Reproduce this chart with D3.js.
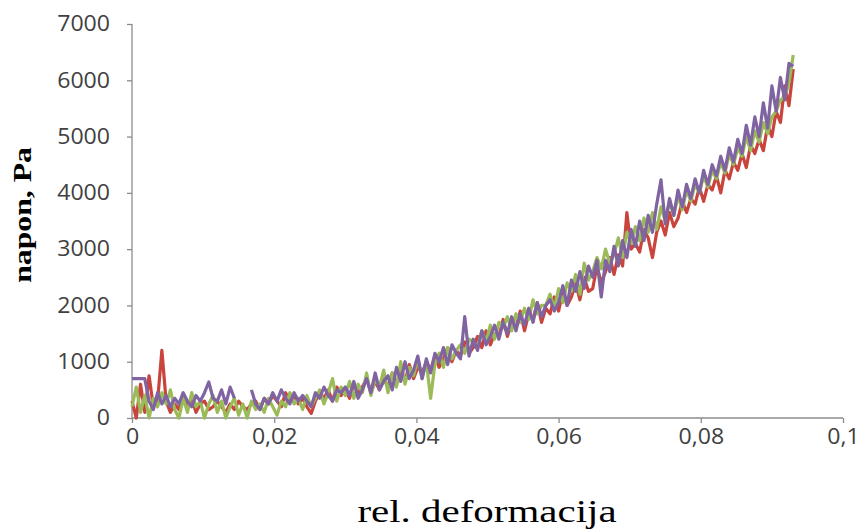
<!DOCTYPE html>
<html>
<head>
<meta charset="utf-8">
<script src="https://cdn.jsdelivr.net/npm/d3@7"></script>
<style>
  html, body { margin: 0; padding: 0; background: #fff; }
  svg { display: block; }
</style>
</head>
<body>
<svg id="chart" width="864" height="531"></svg>
<script>
// Relative strain (shared sampling for all three specimens)
const strain = [
  0, 0.0006, 0.0012, 0.0018, 0.0024, 0.003, 0.0036, 0.0042, 0.0048, 0.0054,
  0.006, 0.0066, 0.0072, 0.0078, 0.0084, 0.009, 0.0096, 0.0102, 0.0108, 0.0114,
  0.012, 0.0126, 0.0132, 0.0138, 0.0144, 0.015, 0.0156, 0.0162, 0.0168, 0.0174,
  0.018, 0.0186, 0.0192, 0.0198, 0.0204, 0.021, 0.0216, 0.0222, 0.0228, 0.0234,
  0.024, 0.0246, 0.0252, 0.0258, 0.0264, 0.027, 0.0276, 0.0282, 0.0288, 0.0294,
  0.03, 0.0306, 0.0312, 0.0318, 0.0324, 0.033, 0.0336, 0.0342, 0.0348, 0.0354,
  0.036, 0.0366, 0.0372, 0.0378, 0.0384, 0.039, 0.0396, 0.0402, 0.0408, 0.0414,
  0.042, 0.0426, 0.0432, 0.0438, 0.0444, 0.045, 0.0456, 0.0462, 0.0468, 0.0474,
  0.048, 0.0486, 0.0492, 0.0498, 0.0504, 0.051, 0.0516, 0.0522, 0.0528, 0.0534,
  0.054, 0.0546, 0.0552, 0.0558, 0.0564, 0.057, 0.0576, 0.0582, 0.0588, 0.0594,
  0.06, 0.0606, 0.0612, 0.0618, 0.0624, 0.063, 0.0636, 0.0642, 0.0648, 0.0654,
  0.066, 0.0666, 0.0672, 0.0678, 0.0684, 0.069, 0.0696, 0.0702, 0.0708, 0.0714,
  0.072, 0.0726, 0.0732, 0.0738, 0.0744, 0.075, 0.0756, 0.0762, 0.0768, 0.0774,
  0.078, 0.0786, 0.0792, 0.0798, 0.0804, 0.081, 0.0816, 0.0822, 0.0828, 0.0834,
  0.084, 0.0846, 0.0852, 0.0858, 0.0864, 0.087, 0.0876, 0.0882, 0.0888, 0.0894,
  0.09, 0.0906, 0.0912, 0.0918, 0.0924, 0.093
];

// Stress, Pa — specimen 1 (red)
const stressRed = [
  300, 0, 600, 100, 750, 200, 300, 1200, 300, 100,
  250, 150, 400, 200, 350, 100, 250, 300, 150, 200,
  300, 200, 100, 250, 150, 300, 200, 150, 250, 300,
  150, 350, 250, 400, 300, 200, 450, 300, 400, 250,
  350, 200, 80, 300, 450, 350, 500, 300, 550, 400,
  500, 350, 600, 450, 550, 700, 450, 650, 500, 700,
  550, 800, 600, 850, 650, 950, 700, 900, 800, 1000,
  850, 1100, 900, 1050, 1250, 1000, 1200, 1100, 1350, 1150,
  1250, 1450, 1250, 1550, 1300, 1500, 1450, 1750, 1450, 1700,
  1600, 1900, 1550, 1850, 1750, 2050, 1700, 1950, 1850, 2150,
  1900, 2250, 2000, 2150, 2400, 2100, 2500, 2250, 2300, 2700,
  2400, 2600, 2850, 2550, 2900, 2700, 3650, 3000, 3100, 2950,
  3350, 3200, 2850, 3300, 3500, 3250, 3650, 3400, 3550, 3850,
  3650, 3900, 3800, 4100, 3850, 4150, 4050, 4300, 4000, 4400,
  4250, 4550, 4400, 4700, 4450, 4850, 4700, 4950, 4750, 5200,
  5000, 5450, 5250, 5900, 5550, 6200
];

// Stress, Pa — specimen 2 (green)
const stressGreen = [
  200, 550, 100, 400, 0, 350, 200, 450, 250, 500,
  150, 0, 350, 100, 450, 200, 300, 0, 250, 400,
  100, 300, 0, 200, 350, 50, 250, 0, 300, 150,
  250, 100, 350, 200, 50, 300, 200, 450, 250, 350,
  150, 400, 200, 350, 500, 250, 450, 700, 300, 550,
  400, 650, 350, 600, 450, 800, 400, 700, 550, 850,
  450, 800, 550, 1000, 600, 900, 750, 1050, 700, 1000,
  350, 950, 1150, 900, 1250, 1050, 1200, 1300, 1150, 1400,
  1350, 1250, 1550, 1350, 1650, 1400, 1700, 1600, 1800, 1550,
  1850, 1700, 1950, 1750, 2100, 1850, 2000, 2000, 2200, 1950,
  2300, 2050, 2400, 2250, 2550, 2200, 2750, 2450, 2600, 2850,
  2650, 3000, 2750, 2900, 3200, 2850, 3300, 3100, 3400, 3150,
  3550, 3300, 3650, 3350, 3750, 3500, 3850, 3600, 3950, 3700,
  4050, 3850, 4150, 4000, 4300, 4100, 4400, 4250, 4550, 4350,
  4700, 4500, 4800, 4650, 5000, 4750, 5100, 4900, 5250, 5050,
  5350, 5450, 5650, 5700, 5950, 6450
];

// Stress, Pa — specimen 3 (purple); null marks missing readings
const stressPurple = [
  700, 700, 700, 700, 300, 150, 450, 250, 400, 200,
  350, 250, 450, 300, 200, 400, 300, 450, 640, 350,
  300, 500, 250, 550, 350, null, null, null, 500, 250,
  150, 350, 250, 450, 300, 500, 350, 250, 450, 300,
  400, 300, 200, 450, 350, 550, 400, 300, 500, 450,
  550, 400, 650, 350, 500, 700, 450, 800, 500, 650,
  750, 500, 900, 650, 1000, 700, 850, 1100, 700, 1050,
  800, 1150, 1000, 1250, 950, 1300, 1150, 1050, 1800, 1100,
  1400, 1200, 1550, 1300, 1450, 1650, 1400, 1700, 1500, 1800,
  1550, 1850, 1650, 1950, 1700, 2050, 1800, 2000, 2100, 1900,
  2050, 2350, 2000, 2450, 2250, 2600, 2300, 2700, 2500, 2800,
  2150, 2800, 2600, 3050, 2700, 3150, 2850, 3350, 3050, 3500,
  3150, 3600, 3300, 3800, 4230, 3450, 3900, 3600, 4050, 3750,
  4150, 3900, 4250, 4000, 4400, 4150, 4500, 4300, 4650, 4400,
  4800, 4550, 4950, 4700, 5200, 4850, 5350, 5000, 5600, 5150,
  5900, 5450, 6050, 5650, 6300, 6250
];

const seriesColors = ["#C8443C", "#9BBB59", "#8064A2"];
const xTicks = [0, 0.02, 0.04, 0.06, 0.08, 0.1];
const yTicks = [0, 1000, 2000, 3000, 4000, 5000, 6000, 7000];

const svg = d3.select("#chart");
const margin = { left: 132, right: 21, top: 24, bottom: 113 };
const W = 864, H = 531;

const x = d3.scaleLinear().domain([0, 0.1]).range([margin.left, W - margin.right]);
const y = d3.scaleLinear().domain([0, 7000]).range([H - margin.bottom, margin.top]);

const axisColor = "#8c8c8c";
const labelColor = "#404040";
const labelStretch = 1.1;
const fmt = d => d3.format("~g")(d).replace(".", ",");

// X axis
const gx = svg.append("g")
  .attr("transform", `translate(0,${y(0)})`)
  .call(d3.axisBottom(x).tickValues(xTicks).tickSize(5).tickPadding(6).tickFormat(fmt));
// Y axis
const gy = svg.append("g")
  .attr("transform", `translate(${x(0)},0)`)
  .call(d3.axisLeft(y).tickValues(yTicks).tickSize(5).tickPadding(17).tickFormat(d3.format("d")));

[gx, gy].forEach(g => {
  g.select(".domain").attr("stroke", axisColor).attr("stroke-width", 1.3);
  g.selectAll(".tick line").attr("stroke", axisColor).attr("stroke-width", 1.3);
  g.selectAll(".tick text")
    .attr("fill", labelColor)
    .attr("font-family", "'Open Sans', 'Liberation Sans', sans-serif")
    .attr("font-size", 21)
    .attr("transform", `scale(${labelStretch},1)`);
});
// keep the right edge of the y labels where the axis put it
gy.selectAll(".tick text").attr("x", -22 / labelStretch);
gx.select(".domain").attr("d", `M${x(0)},0H${x(0.1)}`);
gy.select(".domain").attr("d", `M0,${y(0)}V${y(7000)}`);

// Series lines
const line = d3.line()
  .defined(d => d[1] !== null)
  .x(d => x(d[0]))
  .y(d => y(d[1]));

[stressRed, stressGreen, stressPurple].forEach((vals, k) => {
  const pts = strain.map((s, i) => [s, vals[i]]);
  svg.append("path")
    .datum(pts)
    .attr("fill", "none")
    .attr("stroke", seriesColors[k])
    .attr("stroke-width", 3.2)
    .attr("stroke-linejoin", "round")
    .attr("d", line);
});

// Axis titles
svg.append("text")
  .attr("transform", `translate(31,215) rotate(-90) scale(1.22,1)`)
  .attr("text-anchor", "middle")
  .attr("font-family", "'Liberation Serif', 'Times New Roman', serif")
  .attr("font-weight", "bold")
  .attr("font-size", 26)
  .attr("fill", "#000")
  .text("napon, Pa");

svg.append("text")
  .attr("transform", `translate(487,522) scale(1.28,1)`)
  .attr("text-anchor", "middle")
  .attr("font-family", "'Liberation Serif', 'Times New Roman', serif")
  .attr("font-size", 32)
  .attr("fill", "#000")
  .text("rel. deformacija");
</script>
</body>
</html>
